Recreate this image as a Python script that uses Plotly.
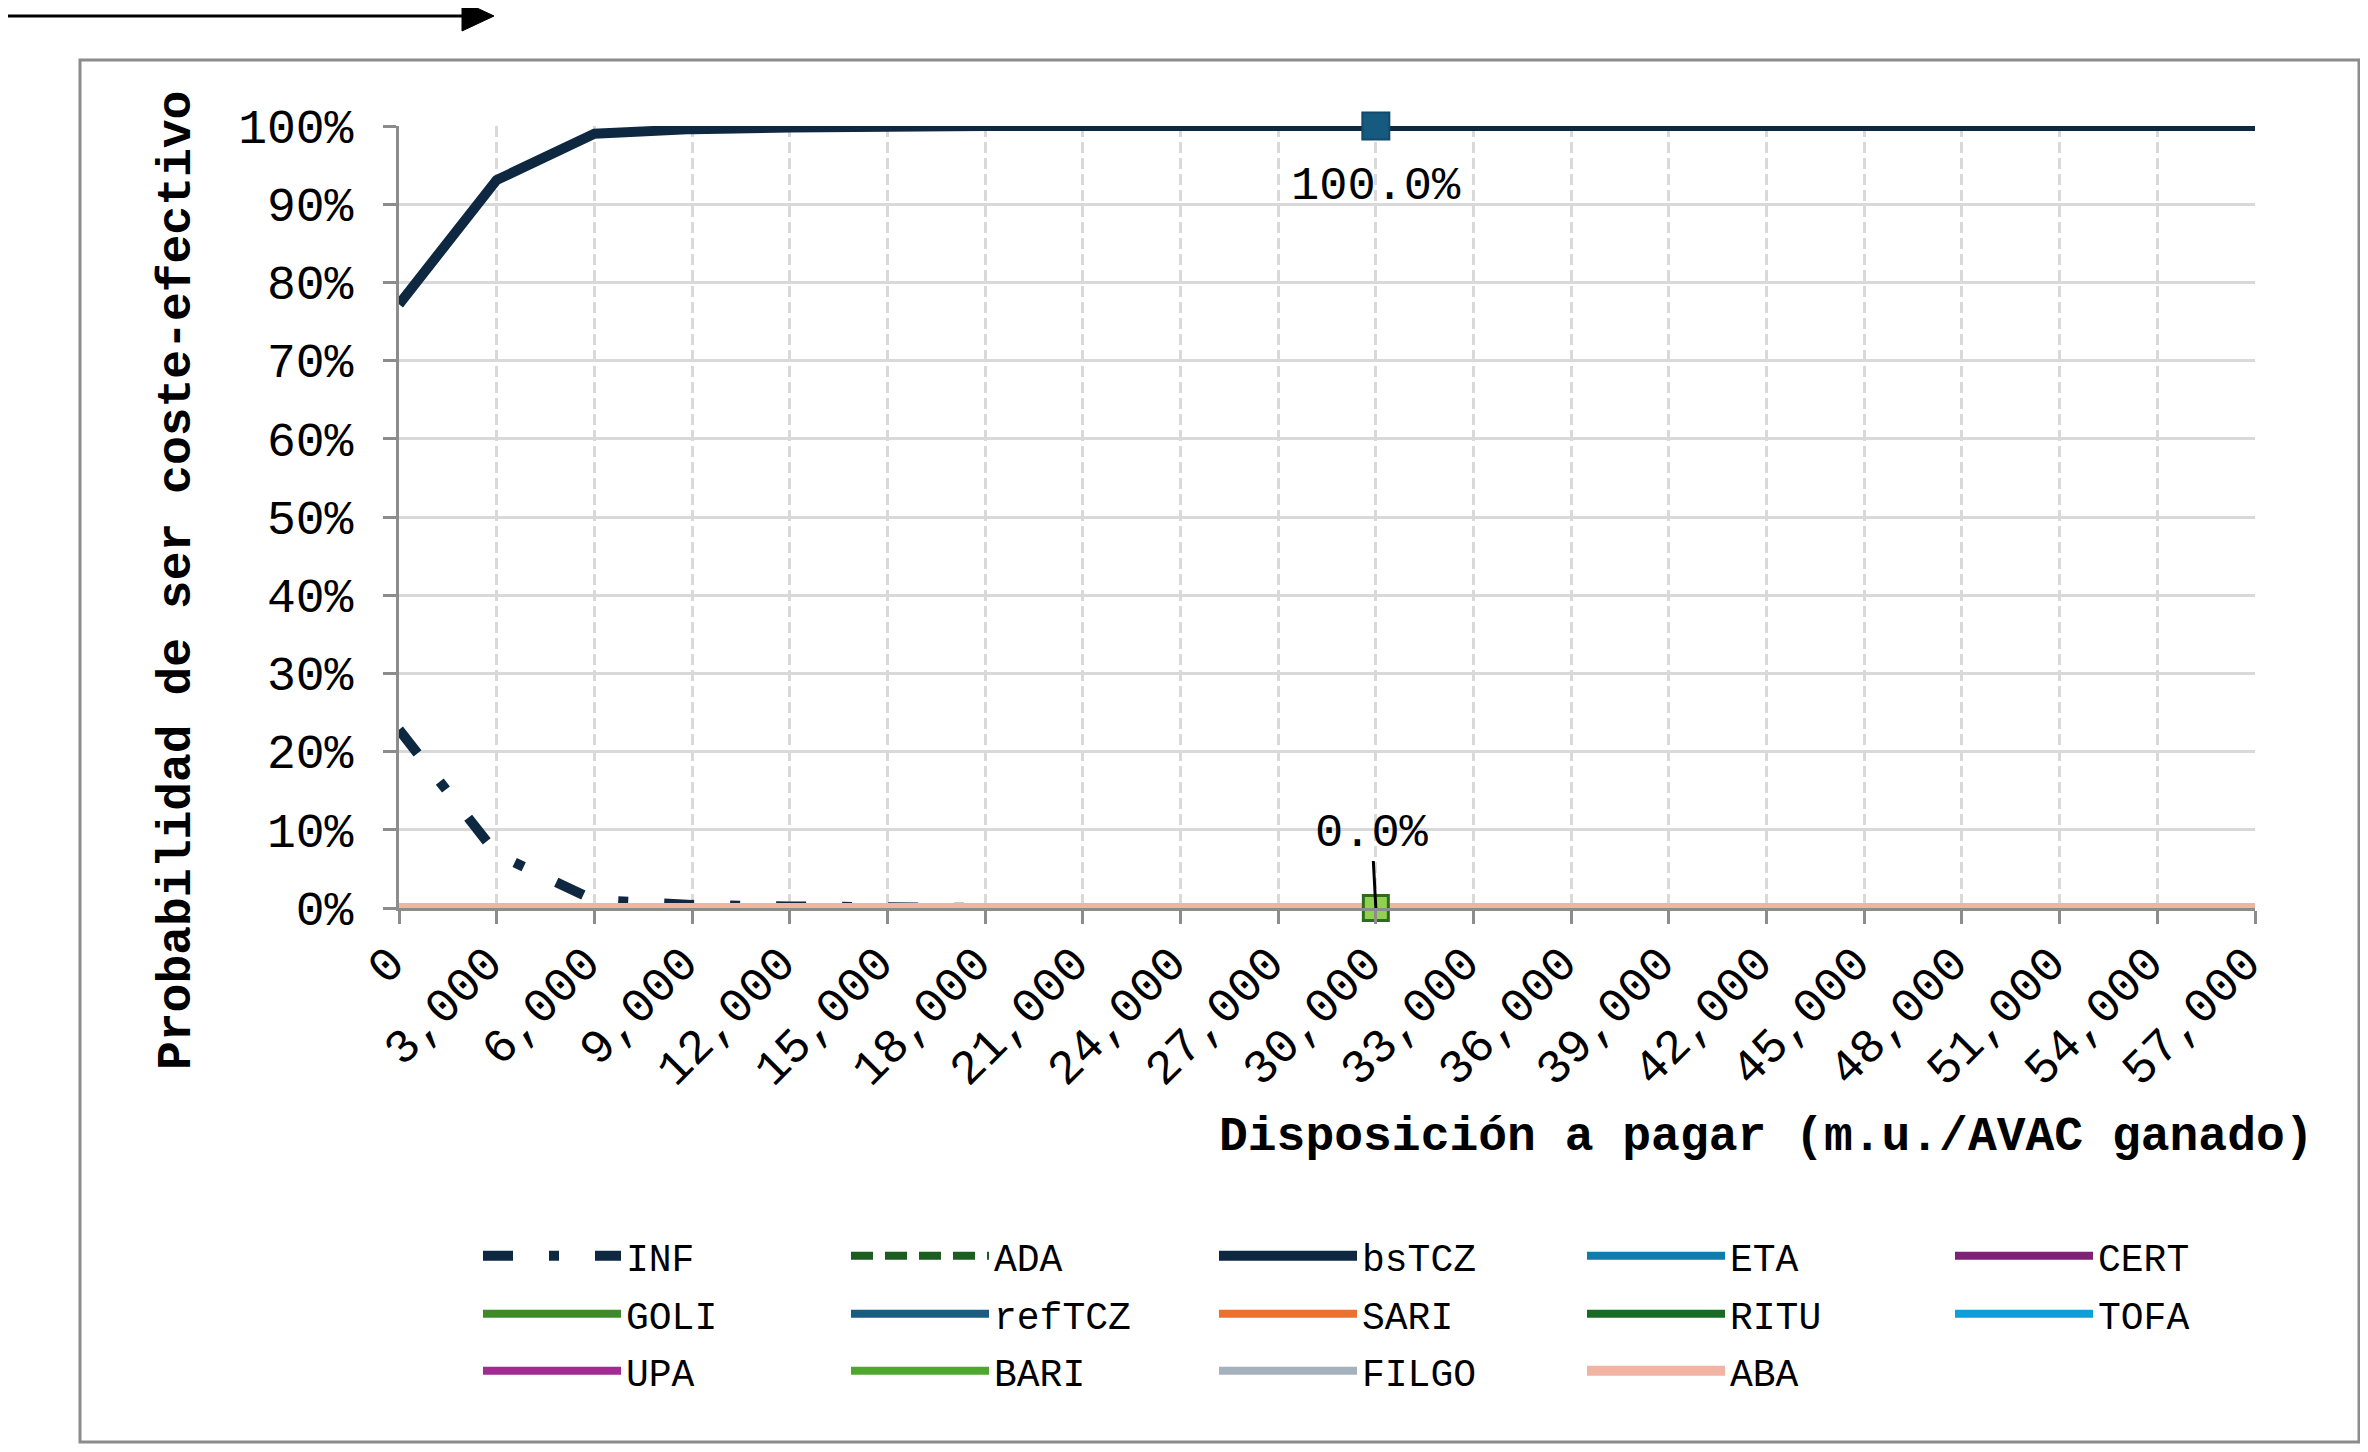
import plotly.graph_objects as go

# ---------------- data ----------------
wtp = [0, 3000, 6000, 9000, 12000, 15000, 18000, 21000, 24000, 27000,
       30000, 33000, 36000, 39000, 42000, 45000, 48000, 51000, 54000, 57000]

inf   = [0.228, 0.069, 0.010, 0.004, 0.002, 0, 0, 0, 0, 0, 0, 0, 0, 0, 0, 0, 0, 0, 0, 0]
ada   = [0, 0, 0, 0, 0, 0, 0, 0, 0, 0, 0, 0, 0, 0, 0, 0, 0, 0, 0, 0]
bstcz = [0.772, 0.931, 0.990, 0.996, 0.998, 1, 1, 1, 1, 1, 1, 1, 1, 1, 1, 1, 1, 1, 1, 1]
eta   = [0, 0, 0, 0, 0, 0, 0, 0, 0, 0, 0, 0, 0, 0, 0, 0, 0, 0, 0, 0]
cert  = [0, 0, 0, 0, 0, 0, 0, 0, 0, 0, 0, 0, 0, 0, 0, 0, 0, 0, 0, 0]
goli  = [0, 0, 0, 0, 0, 0, 0, 0, 0, 0, 0, 0, 0, 0, 0, 0, 0, 0, 0, 0]
reftcz = [0, 0, 0, 0, 0, 0, 0, 0, 0, 0, 0, 0, 0, 0, 0, 0, 0, 0, 0, 0]
sari  = [0, 0, 0, 0, 0, 0, 0, 0, 0, 0, 0, 0, 0, 0, 0, 0, 0, 0, 0, 0]
ritu  = [0, 0, 0, 0, 0, 0, 0, 0, 0, 0, 0, 0, 0, 0, 0, 0, 0, 0, 0, 0]
tofa  = [0, 0, 0, 0, 0, 0, 0, 0, 0, 0, 0, 0, 0, 0, 0, 0, 0, 0, 0, 0]
upa   = [0, 0, 0, 0, 0, 0, 0, 0, 0, 0, 0, 0, 0, 0, 0, 0, 0, 0, 0, 0]
bari  = [0, 0, 0, 0, 0, 0, 0, 0, 0, 0, 0, 0, 0, 0, 0, 0, 0, 0, 0, 0]
filgo = [0, 0, 0, 0, 0, 0, 0, 0, 0, 0, 0, 0, 0, 0, 0, 0, 0, 0, 0, 0]
aba   = [0, 0, 0, 0, 0, 0, 0, 0, 0, 0, 0, 0, 0, 0, 0, 0, 0, 0, 0, 0]

series_names = ["INF", "ADA", "bsTCZ", "ETA", "CERT",
                "GOLI", "refTCZ", "SARI", "RITU", "TOFA",
                "UPA", "BARI", "FILGO", "ABA"]
series_values = [inf, ada, bstcz, eta, cert, goli, reftcz, sari, ritu, tofa,
                 upa, bari, filgo, aba]

highlight_x = [30000]
highlight_top = [1.0]
highlight_bottom = [0.0]
highlight_top_label = ["100.0%"]
highlight_bottom_label = ["0.0%"]

x_title = "Disposición a pagar (m.u./AVAC ganado)"
y_title = "Probabilidad de ser coste-efectivo"

# ---------------- styles ----------------
colors = ["#0E2841", "#1B5E20", "#0E2841", "#0E7CAD", "#7E2276",
          "#3E8A28", "#1A5C82", "#E97132", "#196B24", "#0F9ED5",
          "#A02B93", "#4EA72E", "#A5B1BD", "#F1B3A2"]
dashes = ["30px,36px,10px,36px", "22px,12px", "solid", "solid", "solid",
          "solid", "solid", "solid", "solid", "solid",
          "solid", "solid", "solid", "solid"]
widths = [10, 8, 10, 8, 8, 8, 8, 8, 8, 8, 8, 8, 8, 10]
legend_ids = ["legend"] * 5 + ["legend2"] * 5 + ["legend3"] * 4

FONT = "Courier New, Liberation Mono, monospace"

# page has an 8px body margin: figure is drawn from page (8, 8)
OFF = 8
W, H = 2368 - 2 * OFF, 1452 - 2 * OFF
PLOT_L, PLOT_R, PLOT_T, PLOT_B = 399, 2255, 126, 908   # page pixels
L = PLOT_L - OFF
T = PLOT_T - OFF
R = W - (PLOT_R - OFF)
B = H - (PLOT_B - OFF)
PW, PH = PLOT_R - PLOT_L, PLOT_B - PLOT_T


def px_x(p):
    return (p - PLOT_L) / PW


def px_y(p):
    return (PLOT_B - p) / PH


fig = go.Figure()

for name, vals, c, d, w, lg in zip(series_names, series_values, colors, dashes, widths, legend_ids):
    fig.add_trace(go.Scatter(
        x=wtp, y=vals, name=name, mode="lines",
        line=dict(color=c, width=w, dash=d),
        legend=lg, cliponaxis=False, hoverinfo="skip"))

fig.add_trace(go.Scatter(
    x=highlight_x, y=highlight_top, mode="markers", showlegend=False,
    marker=dict(symbol="square", size=27, color="#175A80",
                line=dict(color="#124A6A", width=2)),
    cliponaxis=False, hoverinfo="skip"))
fig.add_trace(go.Scatter(
    x=highlight_x, y=highlight_bottom, mode="markers", showlegend=False,
    marker=dict(symbol="square", size=25, color="#92D050",
                line=dict(color="#2E6B1F", width=3)),
    cliponaxis=False, hoverinfo="skip"))

annotations = [
    dict(x=highlight_x[0], y=highlight_top[0], xref="x", yref="y",
         text=highlight_top_label[0], showarrow=False, yshift=-60,
         xanchor="center", yanchor="middle",
         font=dict(family=FONT, size=47, color="#000")),
    dict(x=highlight_x[0], y=highlight_bottom[0], xref="x", yref="y",
         text=highlight_bottom_label[0], showarrow=True, arrowhead=0,
         arrowwidth=3, arrowcolor="#000", ax=-4, ay=-75, standoff=0,
         font=dict(family=FONT, size=47, color="#000")),
    dict(x=px_x(1766), y=px_y(1137), xref="paper", yref="paper",
         xanchor="center", yanchor="middle",
         text="<b>" + x_title + "</b>", showarrow=False,
         font=dict(family=FONT, size=48, color="#000")),
    dict(x=px_x(177), y=px_y(581), xref="paper", yref="paper",
         xanchor="center", yanchor="middle",
         text="<b>" + y_title + "</b>", showarrow=False, textangle=-90,
         font=dict(family=FONT, size=48, color="#000")),
]

shapes = [
    dict(type="rect", xref="paper", yref="paper",
         x0=px_x(80), x1=px_x(2359), y0=px_y(1442), y1=px_y(60),
         line=dict(color="#8C8C8C", width=3), fillcolor="rgba(0,0,0,0)", layer="below"),
    dict(type="line", xref="paper", yref="paper",
         x0=px_x(0), x1=px_x(466), y0=px_y(16), y1=px_y(16),
         line=dict(color="#000", width=3)),
    dict(type="path", xref="paper", yref="paper",
         path="M {} {} L {} {} L {} {} Z".format(px_x(462), px_y(1), px_x(462), px_y(31),
                                                 px_x(494), px_y(16)),
         fillcolor="#000", line=dict(color="#000", width=1)),
]

leg_common = dict(orientation="h", entrywidth=215, entrywidthmode="pixels",
                  itemwidth=138, font=dict(family=FONT, size=38, color="#000"),
                  bgcolor="rgba(0,0,0,0)", xanchor="left", yanchor="middle",
                  tracegroupgap=0, borderwidth=0)

fig.update_layout(
    width=W, height=H,
    margin=dict(l=L, r=R, t=T, b=B, autoexpand=False),
    paper_bgcolor="white", plot_bgcolor="white",
    showlegend=True,
    legend=dict(x=px_x(478), y=px_y(1256), **leg_common),
    legend2=dict(x=px_x(478), y=px_y(1314), **leg_common),
    legend3=dict(x=px_x(478), y=px_y(1371), **leg_common),
    annotations=annotations, shapes=shapes,
    xaxis=dict(range=[0, 57000], tickmode="array", tickvals=wtp,
               tickformat=",d", tickangle=-45,
               tickfont=dict(family=FONT, size=48, color="#000"),
               showgrid=True, gridcolor="#D9D9D9", gridwidth=3, griddash="11px,5px",
               showline=True, linecolor="#8C8C8C", linewidth=3,
               ticks="outside", ticklen=13, tickwidth=3, tickcolor="#8C8C8C",
               zeroline=False, automargin=False,
               ticklabelstandoff=-9, ticklabelshift=-9),
    yaxis=dict(range=[0, 1], dtick=0.1, tick0=0, tickformat=".0%",
               tickfont=dict(family=FONT, size=48, color="#000"),
               showgrid=True, gridcolor="#D9D9D9", gridwidth=3,
               showline=True, linecolor="#8C8C8C", linewidth=3,
               ticks="outside", ticklen=13, tickwidth=3, tickcolor="#8C8C8C",
               zeroline=False, automargin=False, ticklabelstandoff=20),
)

fig.write_html("out.html")
